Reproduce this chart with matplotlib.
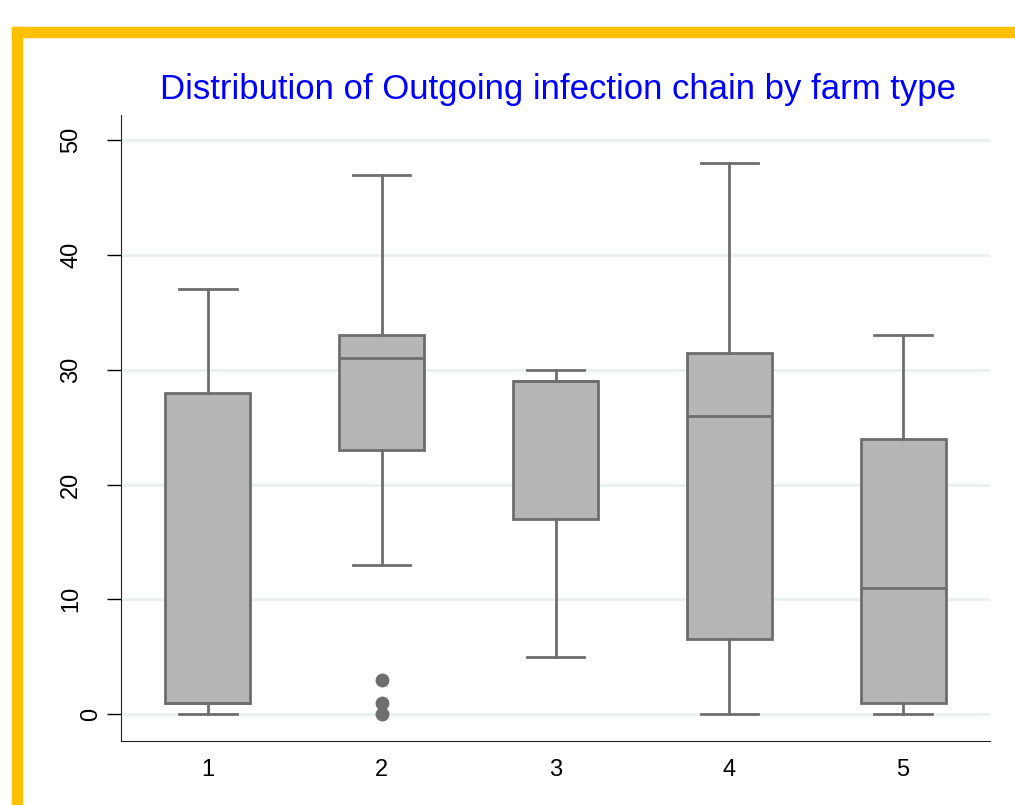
import matplotlib
matplotlib.use("Agg")
import matplotlib.pyplot as plt
from matplotlib.patches import Rectangle

plt.rcParams['font.family'] = ['Liberation Sans', 'DejaVu Sans']

# -------- data -----------------------------------
farm_types = ["1", "2", "3", "4", "5"]
whislo = [0, 13, 5, 0, 0]
q1     = [1, 23, 17, 6.5, 1]
median = [1, 31, 29, 26, 11]
q3     = [28, 33, 29, 31.5, 24]
whishi = [37, 47, 30, 48, 33]
outliers = [[], [0, 1, 3], [], [], []]
y_ticks = [0, 10, 20, 30, 40, 50]

stats = []
for i, name in enumerate(farm_types):
    stats.append(dict(label=name, whislo=whislo[i], q1=q1[i], med=median[i],
                      q3=q3[i], whishi=whishi[i], fliers=outliers[i]))

box_fill = "#b6b6b6"
line_col = "#6e6e6e"

fig = plt.figure(figsize=(10.15, 8.05), dpi=100)
ax = fig.add_axes([121/1015, 1 - 741/805, (990-121)/1015, (741-115)/805])

ax.bxp(stats, positions=range(1, 6), widths=0.49, patch_artist=True,
       boxprops=dict(facecolor=box_fill, edgecolor=line_col, linewidth=2),
       medianprops=dict(color=line_col, linewidth=2),
       whiskerprops=dict(color=line_col, linewidth=2),
       capprops=dict(color=line_col, linewidth=2),
       capwidths=0.33,
       flierprops=dict(marker='o', markersize=9, markerfacecolor=line_col,
                       markeredgecolor=line_col))

ax.set_xlim(0.5, 5.5)
ax.set_ylim(-2.35, 52.2)
ax.set_yticks(y_ticks)
ax.set_yticklabels([])
ax.set_xticks(range(1, 6))
ax.set_xticklabels(farm_types, fontsize=17)
ax.tick_params(axis='x', length=0, pad=13)
ax.tick_params(axis='y', length=10, width=1)
ax.yaxis.grid(True, color="#e8f0f0", linewidth=2)
ax.set_axisbelow(True)
for s in ["top", "right"]:
    ax.spines[s].set_visible(False)
for s in ["left", "bottom"]:
    ax.spines[s].set_color("#222222")

# rotated y labels (the "0" sits closer to the axis, as in the original)
for t in y_ticks:
    xpos = -30/869 if t == 0 else -50/869
    ax.text(xpos, t, str(t), transform=ax.get_yaxis_transform(), rotation=90,
            ha='center', va='center', fontsize=17)

fig.text(558/1015, 1 - 89/805, "Distribution of Outgoing infection chain by farm type",
         ha='center', va='center', color='#0000ff', fontsize=25)

# yellow frame at top and left
fig.patches.append(Rectangle((12/1015, 0), 10/1015, 1 - 27/805,
                             transform=fig.transFigure, color="#ffc000"))
fig.patches.append(Rectangle((12/1015, 1 - 37/805), 1, 10/805,
                             transform=fig.transFigure, color="#ffc000"))

fig.savefig("out.png", dpi=100)
